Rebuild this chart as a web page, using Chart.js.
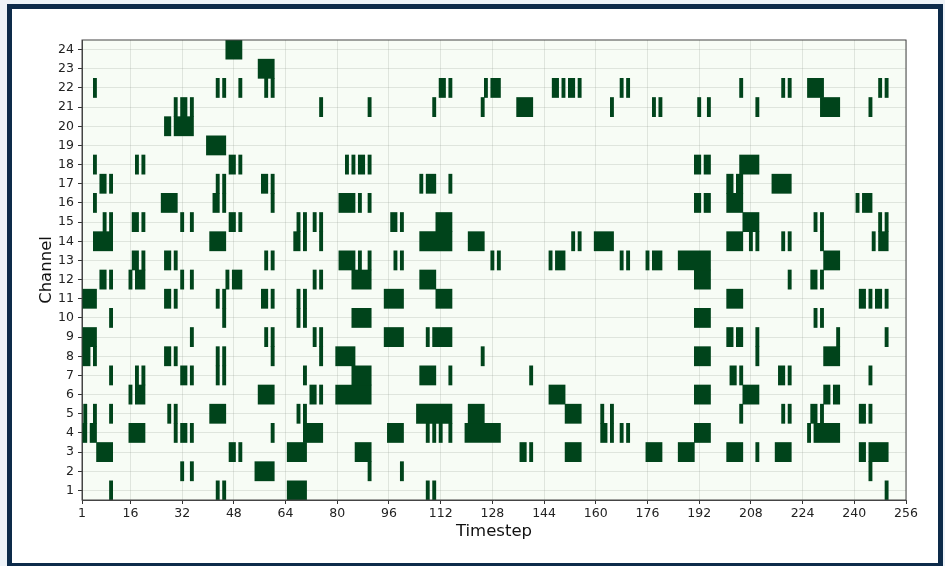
<!DOCTYPE html>
<html>
<head>
<meta charset="utf-8">
<script src="https://cdn.jsdelivr.net/npm/chart.js@4.4.0/dist/chart.umd.min.js"></script>
<style>
  html, body { margin: 0; padding: 0; background: #eef3f8; }
  body { width: 945px; height: 566px; position: relative; overflow: hidden; }
  .frame { position: absolute; left: 7px; top: 4px; width: 926px; height: 554px; border: 5px solid #0d2b4a; background: #fff; }
  #raster { position: absolute; left: 0; top: 0; }
</style>
</head>
<body>
<div class="frame"></div>
<canvas id="raster" width="945" height="566"></canvas>
<script>
// channel labels (bottom to top) and x tick positions
const channelLabels = ['1','2','3','4','5','6','7','8','9','10','11','12',
                       '13','14','15','16','17','18','19','20','21','22','23','24'];
const xTicks = [1, 16, 32, 48, 64, 80, 96, 112, 128, 144, 160, 176, 192, 208, 224, 240, 256];

// active timesteps per channel: single step, or [first, last] run
const ch01 = [10, 43, 45, [65,70], 108, 110, 250];
const ch02 = [32, 35, [55,60], 90, 100, 245];
const ch03 = [[6,10], [47,48], 50, [65,70], [86,90], [137,138], 140, [151,155], [176,180], [186,190], [201,205], 210, [216,220], [242,243], [245,250]];
const ch04 = [[1,2], [4,5], [16,20], 30, [32,33], 35, 60, [70,75], [96,100], 108, 110, 112, 115, [120,130], [162,163], 165, 168, 170, [191,195], 226, [228,235]];
const ch05 = [2, 5, 10, 28, 30, [41,45], 68, 70, [105,115], [121,125], [151,155], 162, 165, 205, 218, 220, [227,228], 230, [242,243], 245];
const ch06 = [16, [18,20], [56,60], [72,73], 75, [80,90], [146,150], [191,195], [206,210], [231,232], [234,235]];
const ch07 = [10, 18, 20, [32,33], 35, 43, 45, 70, [85,90], [106,110], 115, 140, [202,203], 205, [217,218], 220, 245];
const ch08 = [[1,3], 5, [27,28], 30, 43, 45, 60, 75, [80,85], 125, [191,195], 210, [231,235]];
const ch09 = [[1,5], 35, 58, 60, 73, 75, [95,100], 108, [110,115], [201,202], [204,205], 210, 235, 250];
const ch10 = [10, 45, 68, 70, [85,90], [191,195], 228, 230];
const ch11 = [[1,5], [27,28], 30, 43, 45, [57,58], 60, 68, 70, [95,100], [111,115], [201,205], [242,243], 245, [247,248], 250];
const ch12 = [[7,8], 10, 16, [18,20], 32, 35, 46, [48,50], 73, 75, [85,90], [106,110], [191,195], 220, [227,228], 230];
const ch13 = [[17,18], 20, [27,28], 30, 58, 60, [81,85], 87, 90, 98, 100, 128, 130, 146, [148,150], 168, 170, 176, [178,180], [186,195], [231,235]];
const ch14 = [[5,10], [41,45], [67,68], 70, 75, [106,115], [121,125], 153, 155, [160,165], [201,205], 208, 210, 218, 220, 230, 246, [248,250]];
const ch15 = [8, 10, [17,18], 20, 32, 35, [47,48], 50, 68, 70, 73, 75, [97,98], 100, [111,115], [206,210], 228, 230, 248, 250];
const ch16 = [5, [26,30], [42,43], 45, 60, [81,85], 87, 90, [191,192], [194,195], [201,205], 241, [243,245]];
const ch17 = [[7,8], 10, 43, 45, [57,58], 60, 106, [108,110], 115, [201,202], [204,205], [215,220]];
const ch18 = [5, 18, 20, [47,48], 50, 83, 85, [87,88], 90, [191,192], [194,195], [205,210]];
const ch19 = [[40,45]];
const ch20 = [[27,28], [30,35]];
const ch21 = [30, [32,33], 35, 75, 90, 110, 125, [136,140], 165, 178, 180, 192, 195, 210, [230,235], 245];
const ch22 = [5, 43, 45, 50, 58, 60, [112,113], 115, 126, [128,130], [147,148], 150, [152,153], 155, 168, 170, 205, 218, 220, [226,230], 248, 250];
const ch23 = [[56,60]];
const ch24 = [[46,50]];

const channelRuns = [ch01, ch02, ch03, ch04, ch05, ch06, ch07, ch08, ch09, ch10, ch11, ch12,
                     ch13, ch14, ch15, ch16, ch17, ch18, ch19, ch20, ch21, ch22, ch23, ch24];

// each cell is centred on its timestep, so a run covers first-0.5 .. last+0.5
const spikes = [];
channelRuns.forEach(function (runs, i) {
    runs.forEach(function (r) {
        const first = Array.isArray(r) ? r[0] : r;
        const last = Array.isArray(r) ? r[1] : r;
        spikes.push({ x: [first - 0.5, last + 0.5], y: channelLabels[i] });
    });
});

const plotFrame = {
    id: 'plotFrame',
    beforeDraw(chart) {
        const { ctx, chartArea: a } = chart;
        ctx.save();
        ctx.fillStyle = '#f7fcf5';
        ctx.fillRect(a.left, a.top, a.right - a.left, a.bottom - a.top);
        ctx.restore();
    },
    afterDraw(chart) {
        const { ctx, chartArea: a } = chart;
        ctx.save();
        ctx.strokeStyle = '#444';
        ctx.lineWidth = 1;
        ctx.strokeRect(a.left, a.top, a.right - a.left, a.bottom - a.top);
        ctx.restore();
    }
};

const tickFont = { family: 'DejaVu Sans', size: 12.5 };
const titleFont = { family: 'DejaVu Sans', size: 16.5 };
const gridColor = 'rgba(150,160,150,0.25)';

const ctx = document.getElementById('raster').getContext('2d');
const raster = new Chart(ctx, {
    type: 'bar',
    data: {
        labels: channelLabels,
        datasets: [{
            data: spikes,
            backgroundColor: '#00441b',
            borderWidth: 0,
            barPercentage: 1,
            categoryPercentage: 1,
            grouped: false
        }]
    },
    options: {
        indexAxis: 'y',
        responsive: false,
        animation: false,
        layout: { padding: { left: 37, top: 40, right: 39, bottom: 24 } },
        plugins: {
            legend: { display: false },
            tooltip: { enabled: false }
        },
        scales: {
            x: {
                type: 'linear',
                min: 1,
                max: 256,
                afterBuildTicks: function (scale) {
                    scale.ticks = xTicks.map(v => ({ value: v }));
                },
                afterFit: function (scale) { scale.height = 42; },
                grid: { color: gridColor, tickColor: '#333', tickLength: 4, tickWidth: 1 },
                border: { display: true, color: '#444' },
                ticks: { color: '#222', font: tickFont, padding: 2, maxRotation: 0, autoSkip: false },
                title: { display: true, text: 'Timestep', color: '#111', font: titleFont, padding: 0 }
            },
            y: {
                type: 'category',
                reverse: true,
                offset: true,
                afterFit: function (scale) { scale.width = 45; },
                grid: { offset: false, color: gridColor, tickColor: '#333', tickLength: 4, tickWidth: 1 },
                border: { display: true, color: '#444' },
                ticks: { color: '#222', font: tickFont, padding: 4, autoSkip: false },
                title: { display: true, text: 'Channel', color: '#111', font: titleFont, padding: 0 }
            }
        }
    },
    plugins: [plotFrame]
});
</script>
</body>
</html>
